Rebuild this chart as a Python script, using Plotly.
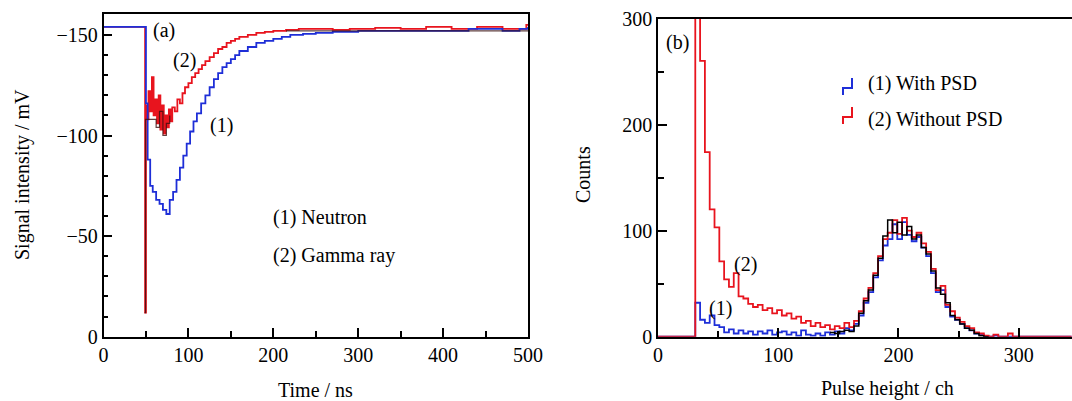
import plotly.graph_objects as go

W, H = 1072, 401
def px(x): return x / W
def py(y): return 1 - y / H

FONT = "Liberation Serif"
BLUE = "#1e2fd8"
RED = "#e8141e"

# ---------------- Panel (a): signal waveforms ----------------
neutron_t = [0, 48, 50, 52, 55, 58, 62, 66, 70, 74, 78, 82, 86, 90, 94, 98, 102, 106, 110, 115, 120,
             125, 130, 135, 140, 145, 150, 155, 160, 170, 180, 190, 200, 210, 220, 235, 250, 270, 300,
             350, 400, 430, 470, 490, 500]
neutron_v = [-154, -154, -116, -88, -75, -72, -68, -66, -63, -61, -68, -72, -78, -84, -90, -96, -102, -107,
             -111, -116, -120, -124, -128, -131, -134, -136, -138, -140, -142, -144, -146, -147, -148, -149,
             -150, -150.5, -151, -151.5, -152, -152, -152, -153, -152, -153, -154]

gamma_t = [0, 49, 50, 51, 53, 55, 57, 59, 61, 63, 65, 67, 69, 71, 73, 75, 77, 79, 81, 84, 87, 90, 93, 96,
           100, 104, 108, 112, 116, 120, 125, 130, 135, 140, 145, 150, 155, 160, 170, 180, 190, 200, 215,
           230, 250, 270, 290, 320, 350, 380, 410, 440, 470, 498, 500]
gamma_v = [-154, -12, -115, -108, -122, -112, -129, -110, -118, -106, -120, -103, -115, -101, -110, -104,
           -113, -107, -114, -112, -118, -116, -121, -124, -126, -129, -131, -133, -135, -137, -139, -141,
           -143, -144, -146, -147, -148, -149, -150, -151, -151.5, -152, -152.5, -153, -153, -152.5, -153,
           -153.5, -153, -154, -153, -154, -153, -155, -155]

black_t = [48.5, 49.5, 62, 66, 70, 74, 78, None, 215, 500]
black_v = [-12, -108, -104, -112, -100, -106, -110, None, -152, -152]

# ---------------- Panel (b): pulse-height spectra ----------------
ch = [31, 35, 39, 43, 47, 51, 55, 59, 63, 67, 71, 75, 79, 83, 87, 91, 95, 99, 103, 107, 111, 115, 119,
      123, 127, 131, 135, 139, 143, 147, 151, 155, 159, 163, 167, 171, 175, 179, 183, 187, 191, 195, 199,
      203, 207, 211, 215, 219, 223, 227, 231, 235, 239, 243, 247, 251, 255, 259, 263, 267, 271, 275, 279,
      283, 287, 291, 295, 299, 303]
without_psd = [420, 260, 174, 120, 103, 71, 54, 47, 60, 38, 36, 31, 28, 30, 25, 27, 22, 25, 20, 22, 17,
               19, 13, 15, 10, 13, 9, 11, 7, 10, 8, 13, 9, 15, 24, 36, 46, 60, 76, 92, 98, 110, 97, 112,
               100, 94, 98, 88, 80, 64, 44, 48, 30, 24, 18, 14, 10, 8, 4, 3, 1, 0, 2, 0, 0, 3, 0, 0, 0]
with_psd = [32, 16, 13, 20, 11, 9, 4, 7, 3, 6, 3, 5, 2, 5, 3, 6, 2, 4, 5, 2, 4, 1, 6, 2, 1, 3, 1, 4, 2,
            5, 3, 8, 6, 12, 20, 32, 42, 56, 72, 86, 92, 106, 92, 108, 96, 90, 94, 84, 76, 60, 42, 44, 28,
            19, 16, 12, 8, 6, 3, 2, 0, 0, 1, 0, 0, 0, 0, 0, 0]
black_ch = [143, 147, 151, 155, 159, 163, 167, 171, 175, 179, 183, 187, 191, 195, 199, 203, 207, 211,
            215, 219, 223, 227, 231, 235, 239, 243, 247, 251, 255, 259, 263, 267, 271, 275]
black_counts = [4, 3, 5, 6, 5, 10, 22, 34, 44, 58, 74, 95, 110, 98, 108, 96, 104, 92, 96, 84, 78, 62,
                46, 40, 32, 20, 16, 12, 8, 6, 3, 1, 0, 0]

fig = go.Figure()
# panel a
fig.add_trace(go.Scatter(x=gamma_t, y=gamma_v, mode="lines", line=dict(color=RED, width=1.8, shape="hv"),
                         xaxis="x", yaxis="y", showlegend=False))
fig.add_trace(go.Scatter(x=neutron_t, y=neutron_v, mode="lines", line=dict(color=BLUE, width=1.8, shape="hv"),
                         xaxis="x", yaxis="y", showlegend=False))
fig.add_trace(go.Scatter(x=black_t, y=black_v, mode="lines", line=dict(color="#3a1010", width=1.2, shape="hv"),
                         xaxis="x", yaxis="y", showlegend=False, opacity=0.8))
# panel b
fig.add_trace(go.Scatter(x=[0] + ch + [344], y=[0] + with_psd + [0], mode="lines",
                         line=dict(color=BLUE, width=1.8, shape="hv"), xaxis="x2", yaxis="y2", showlegend=False))
fig.add_trace(go.Scatter(x=[0] + ch + [344], y=[0] + without_psd + [0], mode="lines",
                         line=dict(color=RED, width=1.8, shape="hv"), xaxis="x2", yaxis="y2", showlegend=False))
fig.add_trace(go.Scatter(x=black_ch, y=black_counts, mode="lines",
                         line=dict(color="black", width=1.5, shape="hv"), xaxis="x2", yaxis="y2", showlegend=False))

tickfont = dict(family=FONT, size=20, color="black")
common = dict(showgrid=False, zeroline=False, showline=True, linecolor="black", linewidth=1.5,
              ticks="inside", ticklen=9, tickwidth=1.5, tickcolor="black", tickfont=tickfont,
              automargin=False)

fig.update_layout(
    width=W, height=H, margin=dict(l=0, r=0, t=0, b=0, pad=0), autosize=False,
    paper_bgcolor="white", plot_bgcolor="white",
    xaxis=dict(domain=[px(103.5), px(528)], range=[0, 500], tickvals=[0, 100, 200, 300, 400, 500],
               minor=dict(dtick=50, tick0=0, ticks="inside", ticklen=6, tickwidth=1.5, tickcolor="black"),
               mirror=True, anchor="y", **common),
    yaxis=dict(domain=[py(336.7), py(14)], range=[0, -160.4], tickvals=[0, -50, -100, -150],
               minor=dict(dtick=10, tick0=0, ticks="inside", ticklen=5, tickwidth=1.5, tickcolor="black"),
               mirror=True, anchor="x", **common),
    xaxis2=dict(domain=[px(658), 1.0], range=[0, 344.3], tickvals=[0, 100, 200, 300],
                minor=dict(dtick=50, tick0=0, ticks="inside", ticklen=6, tickwidth=1.5, tickcolor="black"),
                mirror=True, anchor="y2", **common),
    yaxis2=dict(domain=[py(336.7), py(18.5)], range=[0, 300], tickvals=[0, 100, 200, 300],
                minor=dict(dtick=50, tick0=0, ticks="inside", ticklen=6, tickwidth=1.5, tickcolor="black"),
                anchor="x2", **common),
)

afont = dict(family=FONT, size=20, color="black")
def ann(x, y, text, xanchor="center", angle=0):
    fig.add_annotation(x=px(x), y=py(y), xref="paper", yref="paper", text=text, showarrow=False,
                       font=afont, xanchor=xanchor, yanchor="middle", textangle=angle)

ann(22, 175, "Signal intensity / mV", angle=-90)
ann(315, 390, "Time / ns")
ann(583, 175, "Counts", angle=-90)
ann(887, 388, "Pulse height / ch")
ann(164, 31, "(a)")
ann(184, 60, "(2)")
ann(221, 125, "(1)")
ann(271, 217, "(1) Neutron", xanchor="left")
ann(271, 255, "(2) Gamma ray", xanchor="left")
ann(677, 43, "(b)")
ann(745, 264, "(2)")
ann(720, 308, "(1)")
ann(866, 83, "(1) With PSD", xanchor="left")
ann(866, 119, "(2) Without PSD", xanchor="left")

def glyph(y0, color):
    path = (f"M {px(852)} {py(y0)} L {px(852)} {py(y0+10)} L {px(843)} {py(y0+10)} "
            f"L {px(843)} {py(y0+17)}")
    fig.add_shape(type="path", path=path, xref="paper", yref="paper", line=dict(color=color, width=2))

glyph(78, BLUE)
glyph(107, RED)

fig.write_html("out.html", config={"displayModeBar": False},
               post_script="document.body.style.margin='0';document.body.style.overflow='hidden';")
